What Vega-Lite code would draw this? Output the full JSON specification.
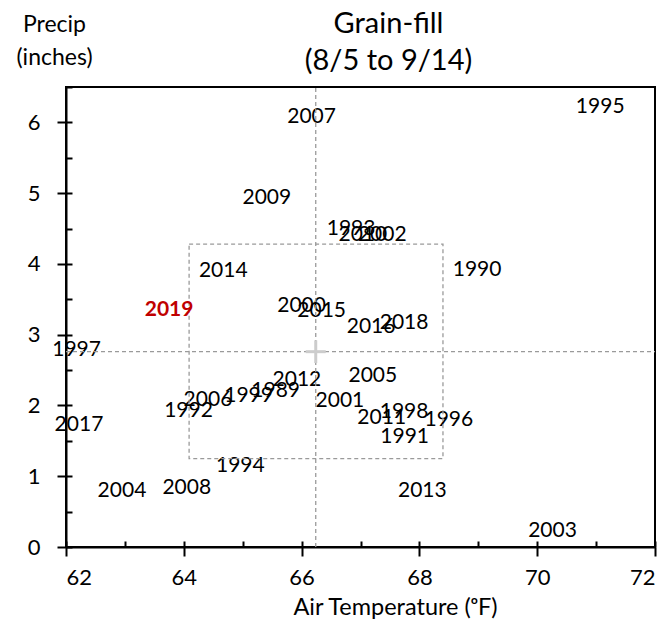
{
  "$schema": "https://vega.github.io/schema/vega-lite/v6.json",
  "width": 589,
  "height": 460,
  "autosize": {"type": "none"},
  "padding": {"left": 66, "top": 87, "right": 17, "bottom": 74},
  "background": "white",
  "config": {
    "view": {"stroke": "#000", "strokeWidth": 2},
    "font": "Lato",
    "axis": {"grid": false}
  },
  "title": {
    "text": ["Grain-fill", "(8/5 to 9/14)"],
    "font": "Lato",
    "fontSize": 29,
    "fontWeight": "normal",
    "color": "#000",
    "anchor": "middle",
    "frame": "group",
    "baseline": "alphabetic",
    "dx": 28,
    "offset": -86,
    "lineHeight": 36.7
  },
  "datasets": {
    "years": [
      {"year": "1989", "t": 65.56, "p": 2.21},
      {"year": "1990", "t": 68.98, "p": 3.91},
      {"year": "1991", "t": 67.75, "p": 1.56},
      {"year": "1992", "t": 64.08, "p": 1.92},
      {"year": "1993", "t": 66.84, "p": 4.49},
      {"year": "1994", "t": 64.96, "p": 1.15},
      {"year": "1995", "t": 71.07, "p": 6.22},
      {"year": "1996", "t": 68.50, "p": 1.79},
      {"year": "1997", "t": 62.18, "p": 2.79},
      {"year": "1998", "t": 67.74, "p": 1.91},
      {"year": "1999", "t": 65.10, "p": 2.14},
      {"year": "2000", "t": 66.00, "p": 3.41},
      {"year": "2001", "t": 66.65, "p": 2.07},
      {"year": "2002", "t": 67.37, "p": 4.41},
      {"year": "2003", "t": 70.26, "p": 0.23},
      {"year": "2004", "t": 62.95, "p": 0.79},
      {"year": "2005", "t": 67.21, "p": 2.41},
      {"year": "2006", "t": 64.41, "p": 2.08},
      {"year": "2007", "t": 66.17, "p": 6.07},
      {"year": "2008", "t": 64.05, "p": 0.84},
      {"year": "2009", "t": 65.41, "p": 4.93},
      {"year": "2010", "t": 67.04, "p": 4.41},
      {"year": "2011", "t": 67.36, "p": 1.82},
      {"year": "2012", "t": 65.92, "p": 2.36},
      {"year": "2013", "t": 68.05, "p": 0.79},
      {"year": "2014", "t": 64.67, "p": 3.90},
      {"year": "2015", "t": 66.34, "p": 3.33},
      {"year": "2016", "t": 67.18, "p": 3.11},
      {"year": "2017", "t": 62.22, "p": 1.72},
      {"year": "2018", "t": 67.74, "p": 3.16},
      {"year": "2019", "t": 63.75, "p": 3.35}
    ],
    "vline": [{"x": 66.24, "y0": 0, "y1": 6.5}],
    "hline": [{"y": 2.76, "x0": 62, "x1": 72}],
    "box": [{"x0": 64.09, "x1": 68.40, "y0": 1.25, "y1": 4.28}],
    "crossH": [{"xa": 66.07, "xb": 66.41, "y": 2.76}],
    "crossV": [{"x": 66.24, "ya": 2.60, "yb": 2.92}],
    "minor": [{"xv": 62, "yv": 0}]
  },
  "layer": [
    {
      "data": {"name": "years"},
      "transform": [{"filter": "datum.year != '2019'"}],
      "mark": {"type": "text", "font": "Lato", "fontSize": 21, "align": "center", "baseline": "middle", "color": "#000"},
      "encoding": {
        "x": {
          "field": "t", "type": "quantitative",
          "scale": {"domain": [62, 72], "nice": false, "zero": false},
          "axis": {
            "orient": "bottom",
            "values": [62, 64, 66, 68, 70, 72],
            "domain": true, "domainColor": "#000", "domainWidth": 2,
            "ticks": true, "tickColor": "#000", "tickWidth": 2, "tickSize": 9,
            "labelFont": "Lato", "labelFontSize": 22, "labelColor": "#000", "labelPadding": 11,
            "title": "Air Temperature (ᵒF)",
            "titleFont": "Lato", "titleFontSize": 23.5, "titleFontWeight": "normal", "titleColor": "#000",
            "titleX": 329, "titleY": 67, "titleAlign": "center", "titleBaseline": "alphabetic"
          }
        },
        "y": {
          "field": "p", "type": "quantitative",
          "scale": {"domain": [0, 6.5], "nice": false, "zero": false},
          "axis": {
            "orient": "left",
            "values": [0, 1, 2, 3, 4, 5, 6],
            "domain": true, "domainColor": "#000", "domainWidth": 2,
            "ticks": true, "tickColor": "#000", "tickWidth": 2, "tickSize": 9,
            "labelFont": "Lato", "labelFontSize": 22, "labelColor": "#000", "labelPadding": 17,
            "title": ["Precip", "(inches)"],
            "titleFont": "Lato", "titleFontSize": 23, "titleFontWeight": "normal", "titleColor": "#000",
            "titleAngle": 0, "titleX": -12, "titleY": -56, "titleAlign": "center", "titleBaseline": "alphabetic",
            "titleLineHeight": 33
          }
        },
        "text": {"field": "year"}
      }
    },
    {
      "data": {"name": "minor"},
      "mark": {"type": "point", "opacity": 0},
      "encoding": {
        "x": {
          "field": "xv", "type": "quantitative",
          "scale": {"domain": [62, 72], "nice": false, "zero": false},
          "axis": {"orient": "bottom", "values": [62, 63, 64, 65, 66, 67, 68, 69, 70, 71, 72], "domain": false, "labels": false, "title": null, "ticks": true, "tickColor": "#000", "tickWidth": 2, "tickSize": -6}
        },
        "y": {
          "field": "yv", "type": "quantitative",
          "scale": {"domain": [0, 6.5], "nice": false, "zero": false},
          "axis": {"orient": "left", "values": [0, 0.5, 1, 1.5, 2, 2.5, 3, 3.5, 4, 4.5, 5, 5.5, 6, 6.5], "domain": false, "labels": false, "title": null, "ticks": true, "tickColor": "#000", "tickWidth": 2, "tickSize": -6}
        }
      }
    },
    {
      "data": {"name": "box"},
      "mark": {"type": "rect", "fillOpacity": 0, "stroke": "#9a9a9a", "strokeWidth": 1.3, "strokeDash": [4, 3]},
      "encoding": {
        "x": {"field": "x0", "type": "quantitative", "scale": {"domain": [62, 72], "nice": false, "zero": false}, "axis": null},
        "x2": {"field": "x1"},
        "y": {"field": "y0", "type": "quantitative", "scale": {"domain": [0, 6.5], "nice": false, "zero": false}, "axis": null},
        "y2": {"field": "y1"}
      }
    },
    {
      "data": {"name": "vline"},
      "mark": {"type": "rule", "stroke": "#9a9a9a", "strokeWidth": 1.3, "strokeDash": [4, 3]},
      "encoding": {
        "x": {"field": "x", "type": "quantitative", "scale": {"domain": [62, 72], "nice": false, "zero": false}, "axis": null},
        "y": {"field": "y0", "type": "quantitative", "scale": {"domain": [0, 6.5], "nice": false, "zero": false}, "axis": null},
        "y2": {"field": "y1"}
      }
    },
    {
      "data": {"name": "hline"},
      "mark": {"type": "rule", "stroke": "#9a9a9a", "strokeWidth": 1.3, "strokeDash": [4, 3]},
      "encoding": {
        "y": {"field": "y", "type": "quantitative", "scale": {"domain": [0, 6.5], "nice": false, "zero": false}, "axis": null},
        "x": {"field": "x0", "type": "quantitative", "scale": {"domain": [62, 72], "nice": false, "zero": false}, "axis": null},
        "x2": {"field": "x1"}
      }
    },
    {
      "data": {"name": "crossH"},
      "mark": {"type": "rule", "stroke": "#cccccc", "strokeWidth": 3},
      "encoding": {
        "y": {"field": "y", "type": "quantitative", "scale": {"domain": [0, 6.5], "nice": false, "zero": false}, "axis": null},
        "x": {"field": "xa", "type": "quantitative", "scale": {"domain": [62, 72], "nice": false, "zero": false}, "axis": null},
        "x2": {"field": "xb"}
      }
    },
    {
      "data": {"name": "crossV"},
      "mark": {"type": "rule", "stroke": "#cccccc", "strokeWidth": 3},
      "encoding": {
        "x": {"field": "x", "type": "quantitative", "scale": {"domain": [62, 72], "nice": false, "zero": false}, "axis": null},
        "y": {"field": "ya", "type": "quantitative", "scale": {"domain": [0, 6.5], "nice": false, "zero": false}, "axis": null},
        "y2": {"field": "yb"}
      }
    },
    {
      "data": {"name": "years"},
      "transform": [{"filter": "datum.year == '2019'"}],
      "mark": {"type": "text", "font": "Lato", "fontSize": 21, "fontWeight": "bold", "align": "center", "baseline": "middle", "color": "#c00000"},
      "encoding": {
        "x": {"field": "t", "type": "quantitative", "scale": {"domain": [62, 72], "nice": false, "zero": false}, "axis": null},
        "y": {"field": "p", "type": "quantitative", "scale": {"domain": [0, 6.5], "nice": false, "zero": false}, "axis": null},
        "text": {"field": "year"}
      }
    }
  ],
  "resolve": {
    "scale": {"x": "independent", "y": "independent"},
    "axis": {"x": "independent", "y": "independent"}
  }
}
